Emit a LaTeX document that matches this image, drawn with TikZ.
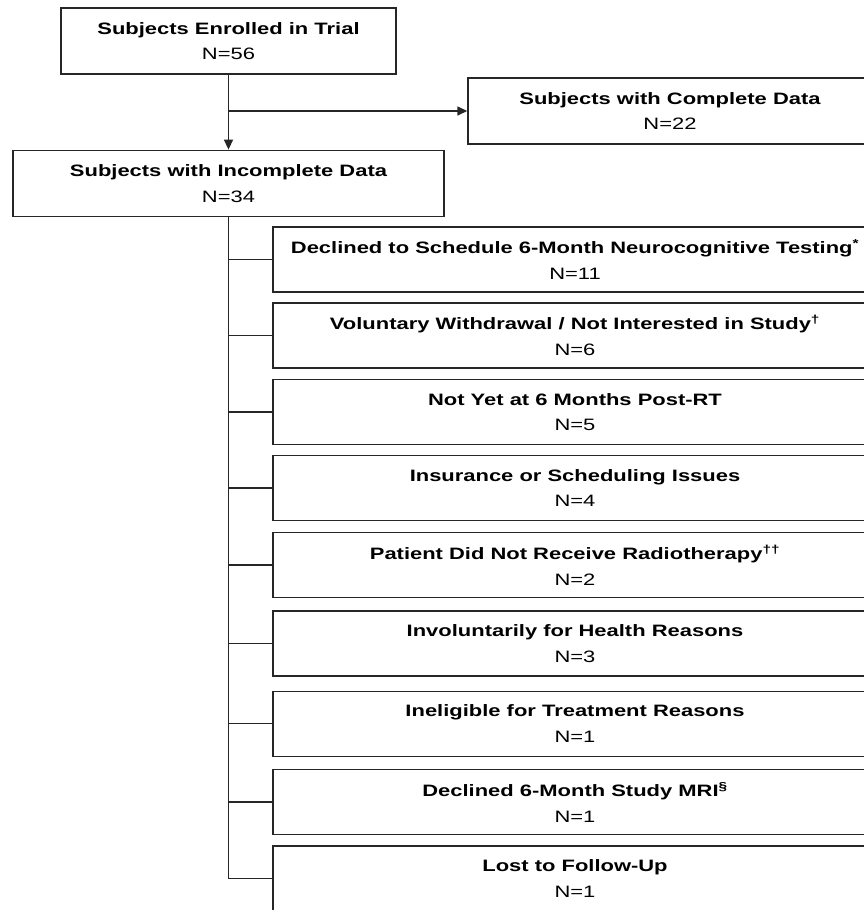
\documentclass[tikz,border=0pt]{standalone}
\usepackage{fontspec}
\setmainfont{Liberation Sans}[FakeStretch=1.33]
\usetikzlibrary{arrows.meta}
\begin{document}
\begin{tikzpicture}[x=1pt,y=-1pt,
  box/.style={draw=black!85, line width=1.4pt, minimum height=65pt, inner sep=0pt,
    align=center, font=\fontsize{16.5}{25.7}\selectfont},
  subbox/.style={box, minimum width=604pt},
  conn/.style={draw=black!85, line width=1.4pt},
  arr/.style={conn, -{Triangle[length=10pt,width=9pt]}}]
\useasboundingbox (0,0) rectangle (864,910);
\fill[white] (0,0) rectangle (864,910);

\node[box, minimum width=335pt, minimum height=66pt] (enr) at (228.5,41)
  {\bfseries Subjects Enrolled in Trial\\N=56};
\node[box, minimum width=404pt, minimum height=66pt] (cmp) at (670,111)
  {\bfseries Subjects with Complete Data\\N=22};
\node[box, minimum width=431pt, minimum height=66pt] (inc) at (228.5,183.3)
  {\bfseries Subjects with Incomplete Data\\N=34};

\node[subbox] (d1) at (575,259.5) {\bfseries Declined to Schedule 6-Month Neurocognitive Testing\textsuperscript{*}\\N=11};
\node[subbox] (d2) at (575,335.5) {\bfseries Voluntary Withdrawal / Not Interested in Study\textsuperscript{\dag}\\N=6};
\node[subbox] (d3) at (575,412) {\bfseries Not Yet at 6 Months Post-RT\\N=5};
\node[subbox] (d4) at (575,488) {\bfseries Insurance or Scheduling Issues\\N=4};
\node[subbox] (d5) at (575,565) {\bfseries Patient Did Not Receive Radiotherapy\textsuperscript{\dag\dag}\\N=2};
\node[subbox] (d6) at (575,643.5) {\bfseries Involuntarily for Health Reasons\\N=3};
\node[subbox] (d7) at (575,723.7) {\bfseries Ineligible for Treatment Reasons\\N=1};
\node[subbox] (d8) at (575,802) {\bfseries Declined 6-Month Study MRI\textsuperscript{\S}\\N=1};
\node[subbox] (d9) at (575,878.5) {\bfseries Lost to Follow-Up\\N=1};

\draw[arr] (enr.south) -- (inc.north);
\draw[arr] (enr.south |- cmp.west) -- (cmp.west);

\draw[conn] (inc.south) -- (inc.south |- d9.west) -- (d9.west);
\foreach \n in {d1,d2,d3,d4,d5,d6,d7,d8}
  \draw[conn] (inc.south |- \n.west) -- (\n.west);
\end{tikzpicture}
\end{document}
